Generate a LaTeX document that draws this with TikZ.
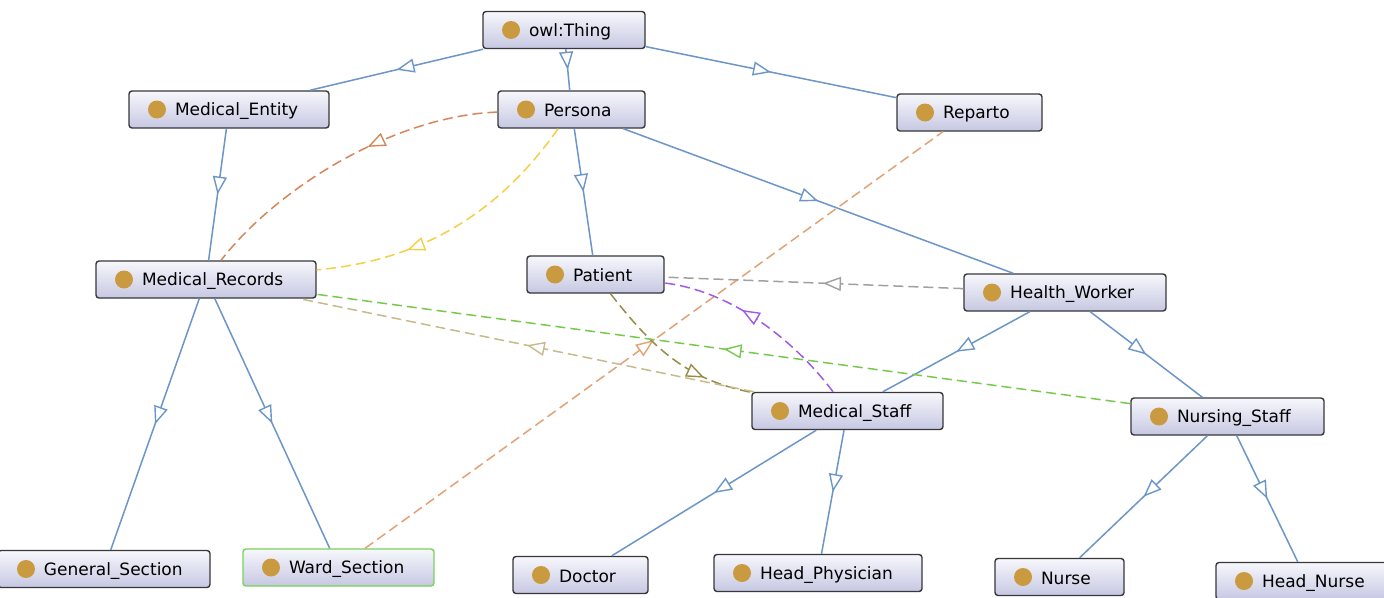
\documentclass[tikz,border=0pt]{standalone}
\usepackage{fontspec}
\setmainfont{DejaVu Sans}
\usetikzlibrary{arrows.meta,decorations.markings}
\definecolor{boxtop}{RGB}{247,247,252}
\definecolor{boxbot}{RGB}{198,200,226}
\definecolor{boxborder}{RGB}{55,55,60}
\definecolor{dotc}{RGB}{201,154,64}
\definecolor{isa}{RGB}{108,150,200}
\definecolor{wardgreen}{RGB}{120,210,90}
\definecolor{corange}{RGB}{214,135,90}
\definecolor{clorange}{RGB}{226,162,118}
\definecolor{cyellow}{RGB}{245,208,70}
\definecolor{cgray}{RGB}{160,160,160}
\definecolor{cpurple}{RGB}{160,90,230}
\definecolor{colive}{RGB}{150,140,70}
\definecolor{ckhaki}{RGB}{200,186,140}
\definecolor{cgreen}{RGB}{120,200,80}
\tikzset{
  cls/.style={rectangle, rounded corners=3pt, draw=boxborder, line width=1.4pt,
    top color=boxtop, bottom color=boxbot, minimum height=37pt, inner xsep=0pt, inner ysep=0pt,
    align=left, font=\fontsize{17}{20}\selectfont,
    path picture={\fill[dotc] ([xshift=28pt]path picture bounding box.west) circle (9pt);}},
  midarrow/.style={postaction={decorate, decoration={markings,
    mark=at position #1 with {\arrow{Triangle[fill=white, length=18pt, width=14pt, line width=1.4pt]}}}}},
  midarrow/.default=0.5,
  isaedge/.style={draw=isa, line width=1.5pt, midarrow},
  rel/.style={draw=#1, line width=1.5pt, dash pattern=on 10pt off 5pt},
}
\newcommand\clsnode[6][]{\node[cls, text width=#5pt, #1] (#2) at (#3,#4) {\hspace*{46pt}#6\rule[-2pt]{0pt}{18pt}};}
\begin{document}
\begin{tikzpicture}[x=1pt,y=-1pt]
\useasboundingbox (0,0) rectangle (1384,597);
\clip (0,0) rectangle (1384,597);
\fill[white] (0,0) rectangle (1384,597);
% nodes
\clsnode{thing}{564}{30}{162}{owl:Thing}
\clsnode{mentity}{229}{109.5}{200}{Medical\_Entity}
\clsnode{persona}{571.5}{109.5}{147}{Persona}
\clsnode{reparto}{969.5}{112.5}{145}{Reparto}
\clsnode{mrec}{206}{279.5}{220}{Medical\_Records}
\clsnode{patient}{595.5}{274.5}{137}{Patient}
\clsnode{hworker}{1065}{292.5}{202}{Health\_Worker}
\clsnode{mstaff}{847.5}{411}{191}{Medical\_Staff}
\clsnode{nstaff}{1227.5}{416.5}{193}{Nursing\_Staff}
\clsnode{gsection}{104}{569}{212}{General\_Section}
\clsnode[draw=wardgreen]{wsection}{338.5}{567.5}{191}{Ward\_Section}
\clsnode{doctor}{580.5}{575}{135}{Doctor}
\clsnode{hphys}{818}{573}{208}{Head\_Physician}
\clsnode{nurse}{1059.5}{577}{129}{Nurse}
\clsnode{hnurse}{1307}{581}{182}{Head\_Nurse}
% subclass edges
\path[isaedge] (thing) -- (mentity);
\path[isaedge] (thing) -- (persona);
\path[isaedge] (thing) -- (reparto);
\path[isaedge] (persona) -- (patient);
\path[isaedge] (persona) -- (hworker);
\path[isaedge] (mentity) -- (mrec);
\path[isaedge] (mrec) -- (gsection);
\path[isaedge] (mrec) -- (wsection);
\path[isaedge] (hworker) -- (mstaff);
\path[isaedge] (hworker) -- (nstaff);
\path[isaedge] (mstaff) -- (doctor);
\path[isaedge] (mstaff) -- (hphys);
\path[isaedge] (nstaff) -- (nurse);
\path[isaedge] (nstaff) -- (hnurse);
% property edges
\path[rel=corange, midarrow=0.42] (persona) to[out=182, in=52, looseness=0.8] (mrec);
\path[rel=cyellow, midarrow=0.68] (persona) to[out=-125, in=5, looseness=0.95] (mrec);
\path[rel=clorange, midarrow] (wsection) -- (reparto);
\path[rel=cgray, midarrow=0.47] (hworker) -- (patient);
\path[rel=cpurple, midarrow=0.6] (mstaff) to[out=127, in=-7, looseness=0.85] (patient);
\path[rel=colive, midarrow=0.72] (patient) to[out=-52, in=169] (mstaff);
\path[rel=ckhaki, midarrow] (mstaff) -- (mrec);
\path[rel=cgreen, midarrow] (nstaff) -- (mrec);
\end{tikzpicture}
\end{document}
